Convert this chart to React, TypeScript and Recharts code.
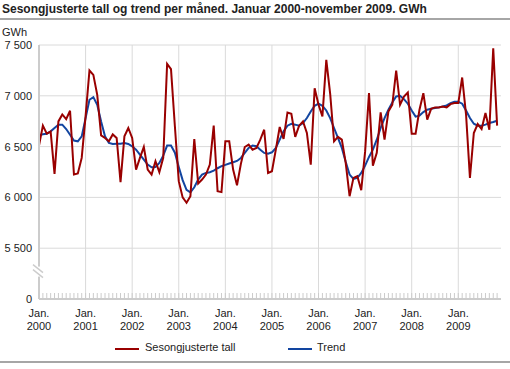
import { LineChart, Line, XAxis, YAxis, CartesianGrid, ReferenceLine, ReferenceDot } from "recharts"

const years = ["2000", "2001", "2002", "2003", "2004", "2005", "2006", "2007", "2008", "2009"]

// Sesongjusterte tall, jan. 2000 - nov. 2009 (GWh)
const seasonal = [
  6510, 6706, 6627, 6647, 6232, 6748, 6817, 6771, 6853, 6225, 6235, 6389,
  6800, 7249, 7206, 7010, 6611, 6585, 6552, 6620, 6585, 6150, 6601, 6683,
  6585, 6274, 6389, 6496, 6274, 6225, 6356, 6248, 6389, 7314, 7262, 6700,
  6160, 6000, 5947, 6012, 6575, 6137, 6176, 6225, 6323, 6706, 6061, 6052,
  6552, 6552, 6274, 6120, 6330, 6496, 6520, 6470, 6487, 6568, 6666, 6241,
  6258, 6470, 6693, 6575, 6836, 6823, 6595, 6706, 6748, 6634, 6323, 7075,
  6912, 6797, 7353, 7020, 6552, 6595, 6568, 6340, 6012, 6192, 6209, 6071,
  6450, 7026, 6313, 6438, 6836, 6568, 6846, 6912, 7249, 6912, 6993, 7033,
  6627, 6627, 6863, 7026, 6765, 6872, 6886, 6886, 6895, 6886, 6918, 6928,
  6928, 7180, 6814, 6192, 6634, 6722, 6673, 6830, 6666, 7468, 6706,
]

// Trend
const trend = [
  6611, 6621, 6627, 6650, 6683, 6716, 6716, 6673, 6617, 6559, 6552, 6601,
  6780, 6961, 6987, 6912, 6748, 6601, 6536, 6526, 6529, 6529, 6536, 6526,
  6503, 6470, 6421, 6372, 6323, 6297, 6300, 6339, 6411, 6510, 6510, 6440,
  6300, 6170, 6075, 6050, 6100, 6176, 6225, 6241, 6248, 6264, 6287, 6307,
  6320, 6333, 6346, 6359, 6388, 6438, 6487, 6510, 6503, 6470, 6438, 6431,
  6444, 6487, 6568, 6650, 6706, 6725, 6716, 6706, 6732, 6781, 6846, 6902,
  6922, 6902, 6856, 6781, 6683, 6585, 6487, 6350, 6225, 6182, 6192, 6241,
  6313, 6398, 6470, 6568, 6683, 6781, 6863, 6935, 6993, 7000, 6967, 6922,
  6856, 6795, 6805, 6840, 6863, 6872, 6879, 6886, 6895, 6905, 6928, 6941,
  6941, 6922, 6856, 6781, 6725, 6706, 6706, 6716, 6732, 6742, 6755,
]

const yTicks = [5000, 5500, 6000, 6500, 7000, 7500]

const RED = "#990000"
const BLUE = "#1245a0"
const GRID = "#dadada"
const AXIS = "#cccccc"
const FONT = '"Liberation Sans", Arial, sans-serif'

const data = seasonal.map((v, i) => ({ month: i, seasonal: v, trend: trend[i] }))
const monthTicks = seasonal.map((_, i) => i)
const janTicks = years.map((_, k) => k * 12)

function fmtY(v: number) {
  if (v === 5000) return "0"
  const s = String(v)
  return s.slice(0, s.length - 3) + " " + s.slice(-3)
}

function MonthTick(props: any) {
  const { x, y, payload } = props
  const i = payload.value as number
  if (i % 12 !== 0) return <g />
  return (
    <text x={x} y={y} textAnchor="middle" fontSize={11} fill="#222" fontFamily={FONT}>
      <tspan x={x} dy={24}>Jan.</tspan>
      <tspan x={x} dy={13}>{years[i / 12]}</tspan>
    </text>
  )
}

function BreakMark(props: any) {
  const { cx, cy } = props
  return (
    <g>
      <rect x={cx - 3} y={cy - 5} width={6} height={10} fill="#fff" />
      <line x1={cx - 6} y1={cy - 7} x2={cx + 4} y2={cy + 1} stroke={AXIS} strokeWidth={1.5} />
      <line x1={cx - 6} y1={cy - 2} x2={cx + 4} y2={cy + 6} stroke={AXIS} strokeWidth={1.5} />
    </g>
  )
}

export default function App() {
  return (
    <div style={{ position: "absolute", left: 0, top: 0, width: 510, height: 369, background: "#fff", fontFamily: FONT, color: "#222" }}>
      <div style={{ position: "absolute", left: 2, top: 2, fontSize: 12, fontWeight: "bold", whiteSpace: "nowrap" }}>
        Sesongjusterte tall og trend per måned. Januar 2000-november 2009. GWh
      </div>
      <div style={{ position: "absolute", left: 0, top: 18, width: 510, height: 2, background: "#a6a6a6" }} />
      <div style={{ position: "absolute", left: 2, top: 26, fontSize: 11 }}>GWh</div>

      <div style={{ position: "absolute", left: 0, top: 0 }}>
        <LineChart width={510} height={369} data={data} margin={{ top: 45, right: 9, bottom: 30, left: 0 }}>
          <CartesianGrid vertical={false} stroke={GRID} />
          {janTicks.map((j) => (
            <ReferenceLine key={j} x={j} stroke={GRID} />
          ))}
          <XAxis
            dataKey="month"
            type="number"
            domain={[0, 119]}
            ticks={monthTicks}
            interval={0}
            height={40}
            tickSize={-6}
            tickMargin={0}
            tick={<MonthTick />}
            tickLine={{ stroke: AXIS }}
            axisLine={{ stroke: AXIS, strokeWidth: 2 }}
          />
          <YAxis
            type="number"
            domain={[5000, 7500]}
            ticks={yTicks}
            interval={0}
            width={39}
            tickSize={0}
            tickMargin={7}
            tickLine={false}
            tickFormatter={fmtY}
            tick={{ fontSize: 11, fill: "#222", fontFamily: FONT }}
            axisLine={{ stroke: AXIS, strokeWidth: 2 }}
          />
          <Line type="linear" dataKey="trend" stroke={BLUE} strokeWidth={2} dot={false} isAnimationActive={false} />
          <Line type="linear" dataKey="seasonal" stroke={RED} strokeWidth={2} dot={false} isAnimationActive={false} />
          <ReferenceDot x={0} y={5270} r={0} ifOverflow="visible" shape={<BreakMark />} />
        </LineChart>
      </div>

      <div style={{ position: "absolute", left: 115, top: 348, width: 24, height: 2, background: RED }} />
      <div style={{ position: "absolute", left: 145, top: 341, fontSize: 11, whiteSpace: "nowrap" }}>Sesongjusterte tall</div>
      <div style={{ position: "absolute", left: 288, top: 348, width: 24, height: 2, background: BLUE }} />
      <div style={{ position: "absolute", left: 317, top: 341, fontSize: 11, whiteSpace: "nowrap" }}>Trend</div>
      <div style={{ position: "absolute", left: 0, top: 361, width: 510, height: 2, background: "#a6a6a6" }} />
    </div>
  )
}
